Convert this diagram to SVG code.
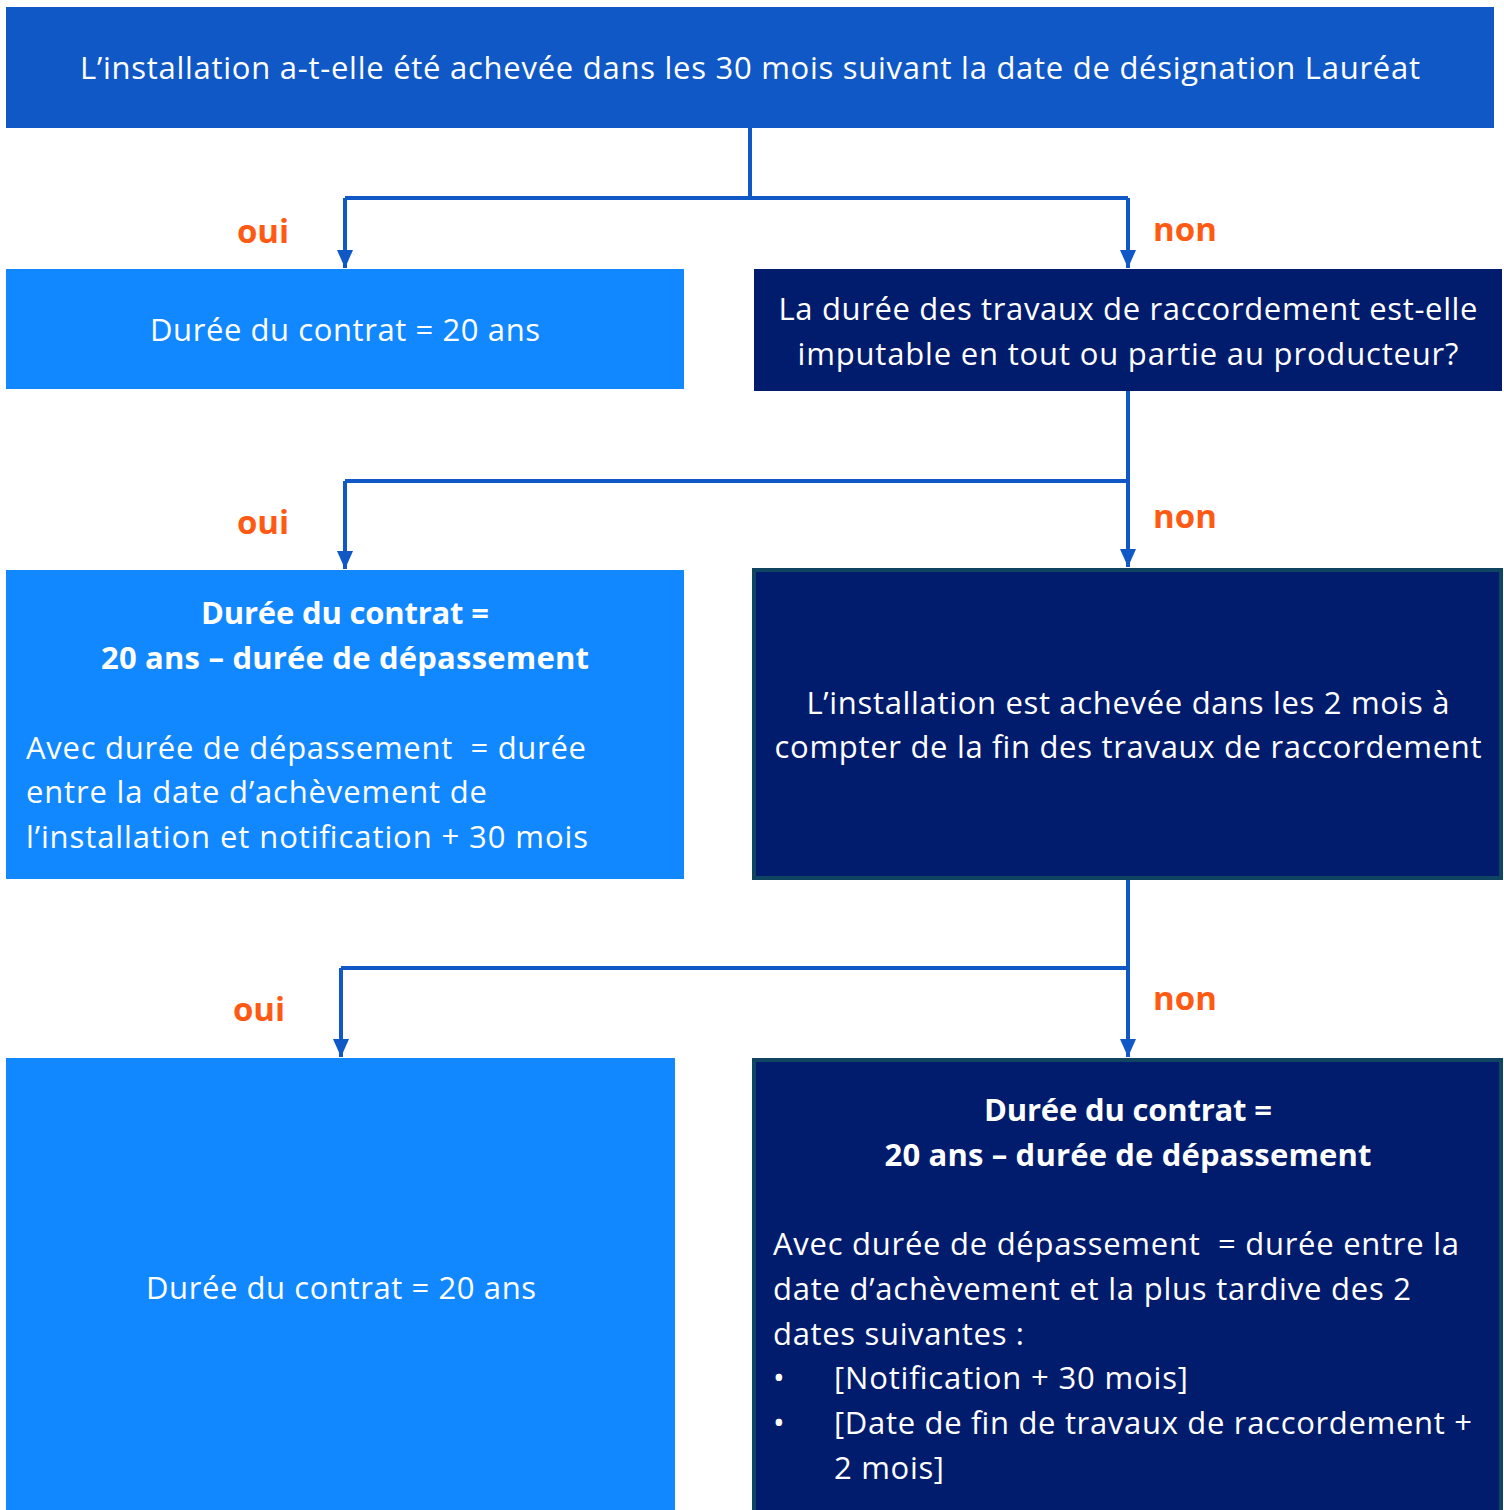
<svg xmlns="http://www.w3.org/2000/svg" width="1504" height="1510" viewBox="0 0 1504 1510">
<style>
.t{font-family:"Open Sans","Noto Sans",sans-serif;font-size:31px;fill:#ffffff;white-space:pre}
.b{font-weight:bold}
.c{text-anchor:middle}
.lab{font-family:"Open Sans","Noto Sans",sans-serif;font-size:33px;font-weight:bold;fill:#FF5A14}
.top{fill:#1158C7}
.light{fill:#1188FF}
.dark{fill:#011C6C}
.darkb{fill:#011C6C;stroke:#0F4560;stroke-width:4}
.conn{fill:none;stroke:#1158C7;stroke-width:4}
</style>
<defs>
<marker id="ad" markerUnits="userSpaceOnUse" markerWidth="18" markerHeight="20" viewBox="0 0 18 20" refX="9" refY="19" orient="0">
<path d="M1,1 L17,1 L9,19 Z" fill="#1158C7"/>
</marker>
</defs>
<rect width="1504" height="1510" fill="#ffffff"/>
<g id="connectors">
<path class="conn" d="M750,128 V198"/>
<path class="conn" d="M345,198 H1128"/>
<path class="conn" d="M345,198 V268" marker-end="url(#ad)"/>
<path class="conn" d="M1128,198 V268" marker-end="url(#ad)"/>
<path class="conn" d="M1128,391 V481"/>
<path class="conn" d="M345,481 H1128"/>
<path class="conn" d="M345,481 V569" marker-end="url(#ad)"/>
<path class="conn" d="M1128,481 V567" marker-end="url(#ad)"/>
<path class="conn" d="M1128,880 V968"/>
<path class="conn" d="M341,968 H1128"/>
<path class="conn" d="M341,968 V1057" marker-end="url(#ad)"/>
<path class="conn" d="M1128,968 V1057" marker-end="url(#ad)"/>
<text class="lab" x="263" y="243" text-anchor="middle">oui</text>
<text class="lab" x="1185" y="241" text-anchor="middle">non</text>
<text class="lab" x="263" y="534" text-anchor="middle">oui</text>
<text class="lab" x="1185" y="528" text-anchor="middle">non</text>
<text class="lab" x="259" y="1021" text-anchor="middle">oui</text>
<text class="lab" x="1185" y="1010" text-anchor="middle">non</text>
</g>
<g id="q1">
<rect class="top" x="6" y="7" width="1488" height="121"/>
<text class="t c" x="750" y="79" textLength="1340">L’installation a-t-elle été achevée dans les 30 mois suivant la date de désignation Lauréat</text>
</g>
<g id="r1">
<rect class="light" x="6" y="269" width="678" height="120"/>
<text class="t c" x="345" y="341" textLength="390">Durée du contrat = 20 ans</text>
</g>
<g id="q2">
<rect class="dark" x="754" y="269" width="748" height="122"/>
<text class="t c" x="1128" y="320" textLength="699">La durée des travaux de raccordement est-elle</text>
<text class="t c" x="1128" y="365" textLength="661">imputable en tout ou partie au producteur?</text>
</g>
<g id="r2">
<rect class="light" x="6" y="570" width="678" height="309"/>
<text class="t b c" x="345" y="624" textLength="288">Durée du contrat =</text>
<text class="t b c" x="345" y="669" textLength="488">20 ans – durée de dépassement</text>
<text class="t" x="26" y="759" textLength="560">Avec durée de dépassement  = durée</text>
<text class="t" x="26" y="803" textLength="461">entre la date d’achèvement de</text>
<text class="t" x="26" y="848" textLength="562">l’installation et notification + 30 mois</text>
</g>
<g id="q3">
<rect class="darkb" x="754" y="570" width="747" height="308"/>
<text class="t c" x="1128" y="714" textLength="643">L’installation est achevée dans les 2 mois à</text>
<text class="t c" x="1128" y="758" textLength="707">compter de la fin des travaux de raccordement</text>
</g>
<g id="r3">
<rect class="light" x="6" y="1058" width="669" height="452"/>
<text class="t c" x="341" y="1299" textLength="390">Durée du contrat = 20 ans</text>
</g>
<g id="r4">
<rect class="darkb" x="754" y="1060" width="747" height="452"/>
<text class="t b c" x="1128" y="1121" textLength="288">Durée du contrat =</text>
<text class="t b c" x="1128" y="1166" textLength="487">20 ans – durée de dépassement</text>
<text class="t" x="773" y="1255" textLength="686">Avec durée de dépassement  = durée entre la</text>
<text class="t" x="773" y="1300" textLength="638">date d’achèvement et la plus tardive des 2</text>
<text class="t" x="773" y="1345" textLength="251">dates suivantes :</text>
<text class="t" x="773" y="1389">•</text>
<text class="t" x="834" y="1389" textLength="354">[Notification + 30 mois]</text>
<text class="t" x="773" y="1434">•</text>
<text class="t" x="834" y="1434" textLength="638">[Date de fin de travaux de raccordement +</text>
<text class="t" x="834" y="1479" textLength="110">2 mois]</text>
</g>
</svg>
